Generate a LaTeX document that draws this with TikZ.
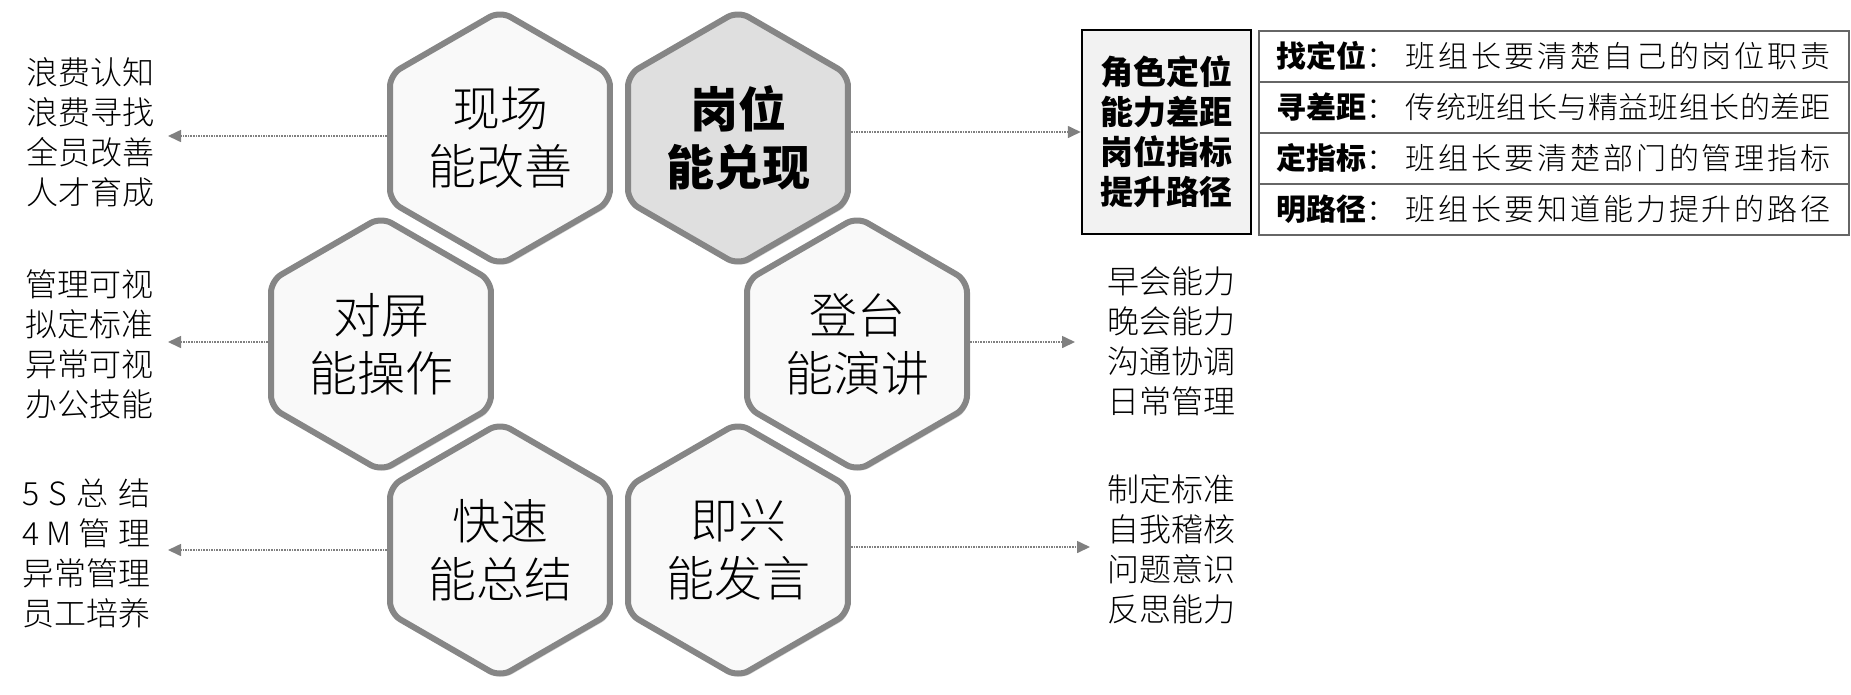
\documentclass[tikz,border=0pt]{standalone}
\usepackage{fontspec}
\setmainfont{Noto Sans CJK SC Light}[BoldFont=Noto Sans CJK SC Black]
\usetikzlibrary{shapes.geometric,arrows.meta,shadows}

% spread the characters of a word over a given width
\newcommand\spreadout[2]{\makebox[#1][s]{\expandafter\spreadloop#2\relax}}
\def\spreadloop#1#2\relax{#1\ifx\relax#2\relax\else\hfill\spreadloop#2\relax\fi}
\newcommand\dutytext[2]{\makebox[554pt]{{\bfseries #1}：\hfill\spreadout{425pt}{#2}}}

\begin{document}
\begin{tikzpicture}[x=1pt,y=-1pt,
  hexcell/.style={regular polygon,regular polygon sides=6,regular polygon rotate=30,
    minimum size=254pt,inner sep=0pt,draw=gray!95,line width=6pt,rounded corners=12pt,
    fill=gray!5,align=center,
    drop shadow={shadow xshift=2pt,shadow yshift=-3pt,opacity=0.35},
    font=\fontsize{48}{58}\selectfont},
  keycell/.style={hexcell,fill=gray!25,font=\fontsize{48}{58}\selectfont\bfseries},
  itemlist/.style={anchor=west,align=left,inner sep=0pt,font=\fontsize{32}{40}\selectfont},
  rolebox/.style={draw=black,line width=2.5pt,fill=gray!10,minimum width=169pt,
    minimum height=204pt,align=center,font=\fontsize{33}{40}\selectfont\bfseries},
  dutyrow/.style={draw=gray!80!black,line width=1.5pt,minimum width=590pt,minimum height=51pt,
    inner xsep=18pt,inner ysep=0pt,anchor=north west,font=\fontsize{30}{30}\selectfont},
  linkarrow/.style={draw=gray,line width=1.6pt,densely dotted,-{Triangle[length=13pt,width=12pt]}}]
  \useasboundingbox (0,0) rectangle (1851,694);

  \node[hexcell] (xianchang) at (500,138) {现场\\能改善};
  \node[keycell] (gangwei) at (738,138) {岗位\\能兑现};
  \node[hexcell] (duiping) at (381,344) {对屏\\能操作};
  \node[hexcell] (dengtai) at (857,344) {登台\\能演讲};
  \node[hexcell] (kuaisu) at (500,550) {快速\\能总结};
  \node[hexcell] (jixing) at (738,550) {即兴\\能发言};

  \node[itemlist] (wasteL) at (26,132) {浪费认知\\浪费寻找\\全员改善\\人才育成};
  \node[itemlist] (screenL) at (25,344) {管理可视\\拟定标准\\异常可视\\办公技能};
  \node[itemlist] (sumL) at (22,553) {\spreadout{128pt}{5S总结}\\\spreadout{128pt}{4M管理}\\异常管理\\员工培养};
  \node[itemlist] (speechR) at (1107,341) {早会能力\\晚会能力\\沟通协调\\日常管理};
  \node[itemlist] (talkR) at (1107,549) {制定标准\\自我稽核\\问题意识\\反思能力};

  \node[rolebox] (role) at (1166.5,132) {角色定位\\能力差距\\岗位指标\\提升路径};
  \foreach \lab/\txt [count=\i] in {找定位/班组长要清楚自己的岗位职责,
      寻差距/传统班组长与精益班组长的差距,
      定指标/班组长要清楚部门的管理指标,
      明路径/班组长要知道能力提升的路径}
    \node[dutyrow] (duty\i) at (1258,{30+51*(\i-1)}) {\dutytext{\lab}{\txt}};

  \coordinate (tipA) at (168,136);
  \coordinate (tipB) at (168,342);
  \coordinate (tipC) at (168,550);
  \coordinate (tipD) at (1075,342);
  \coordinate (tipE) at (1090,547);
  \draw[linkarrow] (xianchang.west |- tipA) -- (tipA);
  \draw[linkarrow] (duiping.west |- tipB) -- (tipB);
  \draw[linkarrow] (kuaisu.west |- tipC) -- (tipC);
  \draw[linkarrow] (gangwei.east |- role.west) -- (role.west);
  \draw[linkarrow] (dengtai.east |- tipD) -- (tipD);
  \draw[linkarrow] (jixing.east |- tipE) -- (tipE);
\end{tikzpicture}
\end{document}
